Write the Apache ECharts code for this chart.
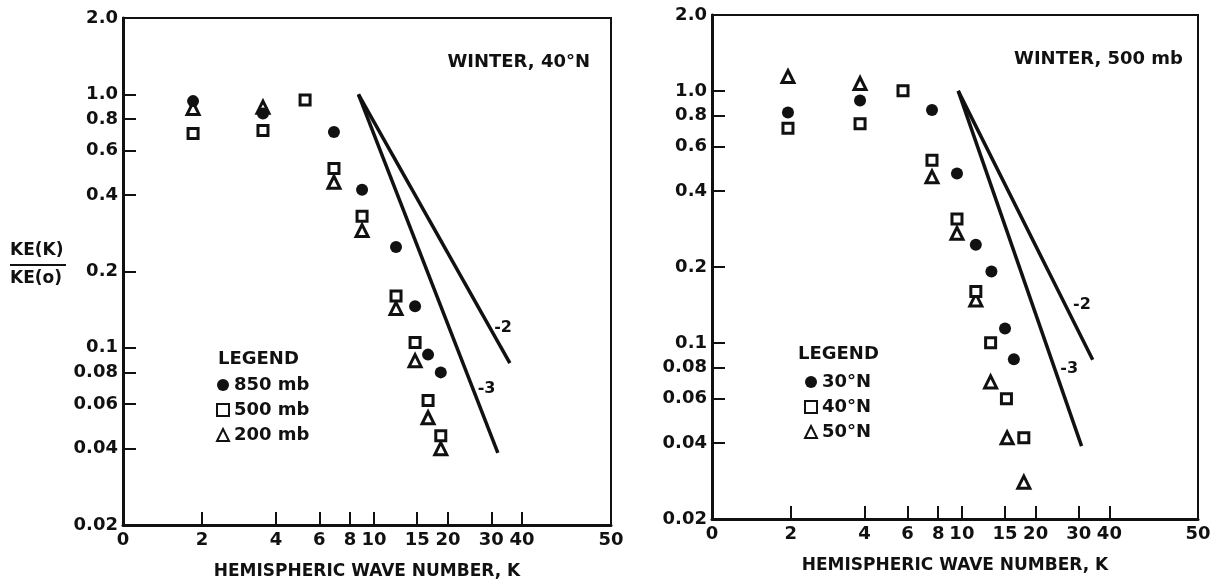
<!DOCTYPE html>
<html>
<head>
<meta charset="utf-8">
<script src="https://cdn.jsdelivr.net/npm/echarts@6/dist/echarts.min.js"></script>
<style>
html, body { margin: 0; padding: 0; background: #fff; }
#main { width: 1215px; height: 584px; }
</style>
</head>
<body>
<div id="main"></div>
<script>
// axis ticks (0 and 50 sit on the two ends of the wave number axis)
var xTickLabels = ['0', '2', '4', '6', '8', '10', '15', '20', '30', '40', '50'];
var xTickK = [2, 4, 6, 8, 10, 15, 20, 30, 40];
var yTickLabels = ['0.02', '0.04', '0.06', '0.08', '0.1', '0.2', '0.4', '0.6', '0.8', '1.0', '2.0'];
var yTickVals = [0.02, 0.04, 0.06, 0.08, 0.1, 0.2, 0.4, 0.6, 0.8, 1.0, 2.0];

// winter, 40N : three levels
var k850 = [1.84, 3.54, 6.88, 8.95, 12.3, 14.7, 16.6, 18.7];
var ke850 = [0.94, 0.84, 0.71, 0.42, 0.25, 0.146, 0.094, 0.080];
var k500 = [1.84, 3.54, 5.25, 6.88, 8.95, 12.3, 14.7, 16.6, 18.7];
var ke500 = [0.70, 0.72, 0.95, 0.51, 0.33, 0.16, 0.105, 0.062, 0.045];
var k200 = [1.84, 3.54, 6.88, 8.95, 12.3, 14.7, 16.6, 18.7];
var ke200 = [0.88, 0.89, 0.45, 0.29, 0.143, 0.089, 0.053, 0.040];

// winter, 500 mb : three latitudes
var k30 = [1.95, 3.84, 7.55, 9.55, 11.4, 13.2, 15.0, 16.3];
var ke30 = [0.82, 0.915, 0.84, 0.47, 0.245, 0.192, 0.114, 0.086];
var k40 = [1.95, 3.84, 5.75, 7.55, 9.55, 11.4, 13.1, 15.2, 17.9];
var ke40 = [0.71, 0.74, 1.0, 0.53, 0.31, 0.16, 0.10, 0.060, 0.042];
var k50 = [1.95, 3.84, 7.55, 9.55, 11.4, 13.1, 15.3, 17.9];
var ke50 = [1.14, 1.07, 0.456, 0.272, 0.148, 0.070, 0.042, 0.028];

// reference slopes (start, end)
var slopeNames = ['-2', '-3'];
var slopeKA = [[8.65, 35.7], [8.65, 31.9]];
var slopeVA = [[1.0, 0.087], [1.0, 0.0385]];
var slopeKB = [[9.66, 34.2], [9.66, 30.8]];
var slopeVB = [[1.0, 0.0857], [1.0, 0.0389]];
// where the slope numbers are written
var slopeLblKA = [33.5, 28.7], slopeLblVA = [0.12, 0.0686];
var slopeLblKB = [30.9, 27.4], slopeLblVB = [0.142, 0.0787];

var FONT = 'DejaVu Sans';
var INK = '#111';

// log scales for both axes
var X_MIN = Math.log10(0.955), X_MAX = Math.log10(92);
function kx(k) { return Math.log10(k); }
function vy(v) { return Math.log10(v); }
var xTickPos = [X_MIN].concat(xTickK.map(kx), [X_MAX]);
var yTickPos = yTickVals.map(vy);

function pick(pos, labels) {
    return function (u) {
        for (var i = 0; i < pos.length; i++) {
            if (Math.abs(u - pos[i]) < 1e-9) return labels[i];
        }
        return '';
    };
}

function pts(ks, vs) {
    return ks.map(function (k, i) { return [kx(k), vy(vs[i])]; });
}

function xAxis(gi) {
    return {
        type: 'value', gridIndex: gi, min: X_MIN, max: X_MAX,
        name: 'HEMISPHERIC WAVE NUMBER, K', nameLocation: 'middle', nameGap: 38,
        nameTextStyle: { fontFamily: FONT, fontWeight: 'bold', fontSize: 17, color: INK },
        axisLine: { show: true, onZero: false, lineStyle: { color: INK, width: 3 } },
        axisTick: { show: true, inside: true, length: 13, lineStyle: { color: INK, width: 2 },
            customValues: xTickK.map(kx) },
        axisLabel: { customValues: xTickPos, formatter: pick(xTickPos, xTickLabels), margin: 6,
            fontFamily: FONT, fontWeight: 'bold', fontSize: 18, color: INK },
        splitLine: { show: false }
    };
}

function yAxis(gi) {
    return {
        type: 'value', gridIndex: gi, min: vy(0.02), max: vy(2.0),
        axisLine: { show: true, onZero: false, lineStyle: { color: INK, width: 3 } },
        axisTick: { show: true, inside: true, length: 13, lineStyle: { color: INK, width: 2 },
            customValues: yTickPos.slice(1, yTickPos.length - 1) },
        axisLabel: { customValues: yTickPos, formatter: pick(yTickPos, yTickLabels), margin: 5,
            fontFamily: FONT, fontWeight: 'bold', fontSize: 18, color: INK },
        splitLine: { show: false }
    };
}

var dot = { symbol: 'circle', symbolSize: 12, itemStyle: { color: INK, opacity: 1 } };
var box = { symbol: 'rect', symbolSize: 10, itemStyle: { color: '#fff', borderColor: INK, borderWidth: 3, opacity: 1 } };
var tri = { symbol: 'triangle', symbolSize: 12, itemStyle: { color: '#fff', borderColor: INK, borderWidth: 3, opacity: 1 } };

function scatter(name, gi, style, data) {
    return Object.assign({ type: 'scatter', name: name, xAxisIndex: gi, yAxisIndex: gi, data: data, z: 3 }, style);
}

function slope(gi, ks, vs) {
    return { type: 'line', xAxisIndex: gi, yAxisIndex: gi, symbol: 'none', silent: true,
        lineStyle: { color: INK, width: 3.5, opacity: 1 }, data: pts(ks, vs), z: 2 };
}

function slopeLabels(gi, ks, vs) {
    return { type: 'scatter', xAxisIndex: gi, yAxisIndex: gi, symbolSize: 0, silent: true,
        itemStyle: { opacity: 1 },
        data: pts(ks, vs).map(function (p, i) { return { value: p, name: slopeNames[i] }; }),
        label: { show: true, position: 'inside', formatter: '{b}', opacity: 1,
            fontFamily: FONT, fontWeight: 'bold', fontSize: 16, color: INK } };
}

var legendText = { fontFamily: FONT, fontWeight: 'bold', fontSize: 18, color: INK };
var titleText = { fontFamily: FONT, fontWeight: 'bold', fontSize: 18, color: INK };

var chart = echarts.init(document.getElementById('main'));
chart.setOption({
    animation: false,
    backgroundColor: '#fff',
    title: [
        { text: 'WINTER, 40°N', right: 625, top: 53, padding: 0, textStyle: titleText },
        { text: 'WINTER, 500 mb', right: 32, top: 50, padding: 0, textStyle: titleText },
        { text: 'LEGEND', left: 218, top: 350, padding: 0, textStyle: titleText },
        { text: 'LEGEND', left: 798, top: 345, padding: 0, textStyle: titleText }
    ],
    legend: [
        { data: ['850 mb', '500 mb', '200 mb'], orient: 'vertical', left: 216, top: 376, padding: 0,
          itemWidth: 12, itemHeight: 12, itemGap: 7, selectedMode: false, textStyle: legendText },
        { data: ['30°N', '40°N', '50°N'], orient: 'vertical', left: 804, top: 373, padding: 0,
          itemWidth: 12, itemHeight: 12, itemGap: 7, selectedMode: false, textStyle: legendText }
    ],
    grid: [
        { left: 123, top: 18, width: 488, height: 507, show: true, borderColor: INK, borderWidth: 2,
          containLabel: false, outerBoundsMode: 'none' },
        { left: 712, top: 15, width: 486, height: 504, show: true, borderColor: INK, borderWidth: 2,
          containLabel: false, outerBoundsMode: 'none' }
    ],
    xAxis: [xAxis(0), xAxis(1)],
    yAxis: [yAxis(0), yAxis(1)],
    graphic: [
        { type: 'text', left: 10, top: 242, style: { text: 'KE(K)', font: 'bold 17px ' + FONT, fill: INK } },
        { type: 'line', shape: { x1: 10, y1: 265, x2: 66, y2: 265 }, style: { stroke: INK, lineWidth: 2 } },
        { type: 'text', left: 10, top: 270, style: { text: 'KE(o)', font: 'bold 17px ' + FONT, fill: INK } }
    ],
    series: [
        slope(0, slopeKA[0], slopeVA[0]),
        slope(0, slopeKA[1], slopeVA[1]),
        slope(1, slopeKB[0], slopeVB[0]),
        slope(1, slopeKB[1], slopeVB[1]),
        slopeLabels(0, slopeLblKA, slopeLblVA),
        slopeLabels(1, slopeLblKB, slopeLblVB),
        scatter('200 mb', 0, tri, pts(k200, ke200)),
        scatter('500 mb', 0, box, pts(k500, ke500)),
        scatter('850 mb', 0, dot, pts(k850, ke850)),
        scatter('50°N', 1, tri, pts(k50, ke50)),
        scatter('40°N', 1, box, pts(k40, ke40)),
        scatter('30°N', 1, dot, pts(k30, ke30))
    ]
});
</script>
</body>
</html>
